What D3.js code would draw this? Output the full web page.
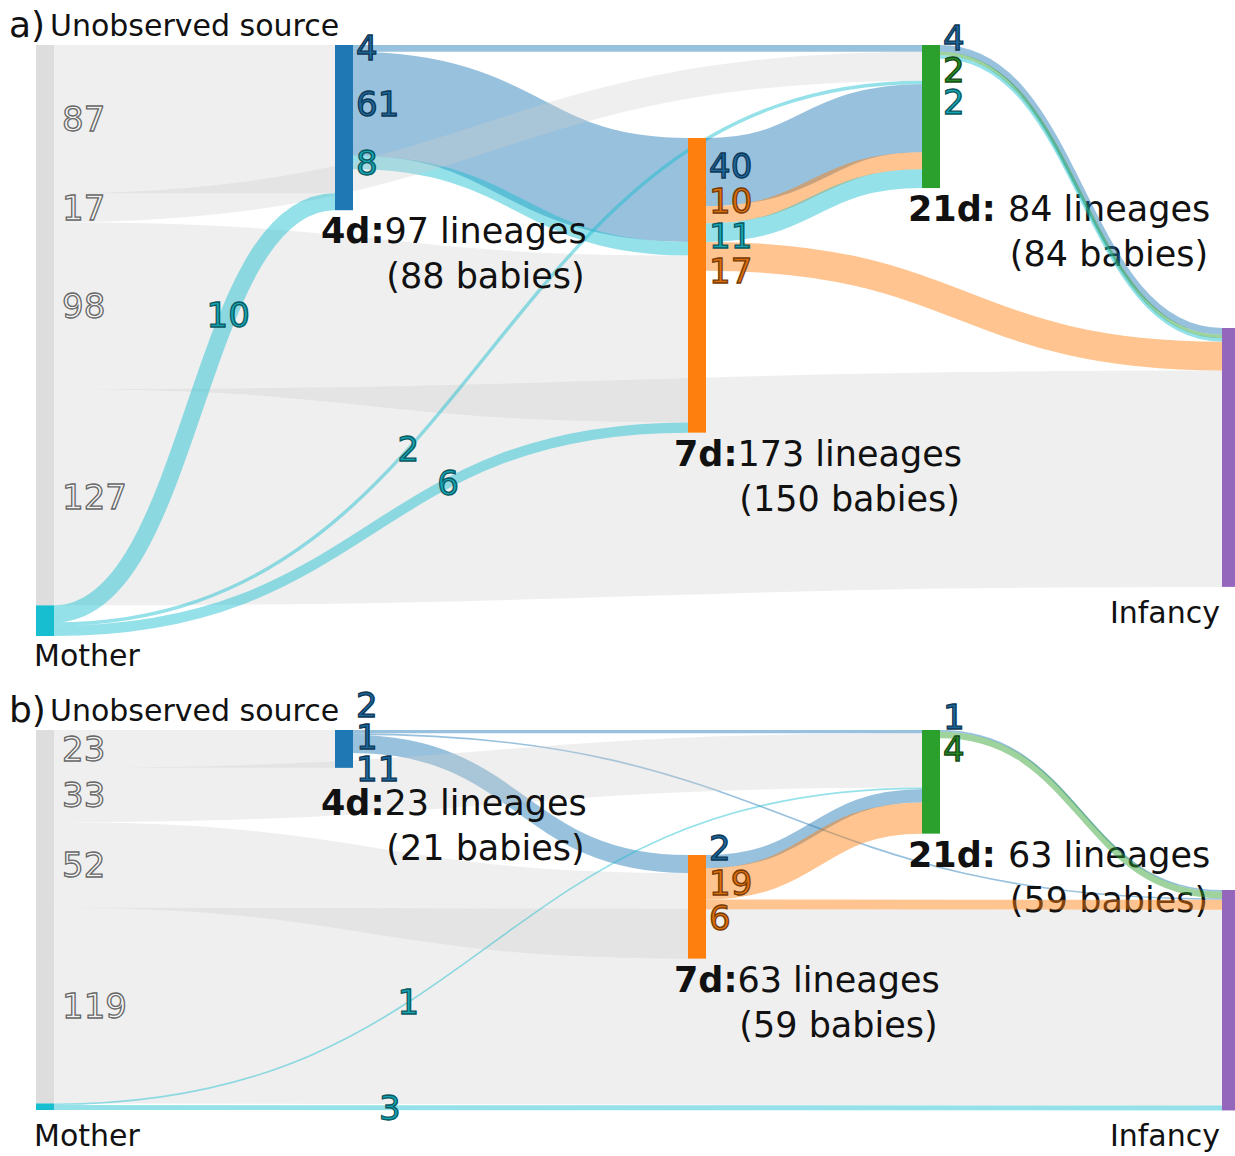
<!DOCTYPE html>
<meta charset="utf-8">
<style>
    body { margin: 0; background: #fff; }
    svg text { font-family: "DejaVu Sans", sans-serif; }
</style>

<svg width="1235" height="1156"></svg>

<script src="https://cdnjs.cloudflare.com/ajax/libs/d3/7.8.5/d3.min.js"></script>

<script>
    // columns of the diagram
    var columns = ["source", "4d", "7d", "21d", "infancy"];
    var nodeColumn = {unob: 0, mother: 0, d4: 1, d7: 2, d21: 3, inf: 4};

    // panel a: [source, target, lineages, colour group]
    var linksA = [
        ["unob", "d4", 87, "gray"],
        ["unob", "d21", 17, "gray"],
        ["unob", "d7", 98, "gray"],
        ["unob", "inf", 127, "gray"],
        ["mother", "d4", 10, "teal"],
        ["mother", "d21", 2, "teal"],
        ["mother", "d7", 6, "teal"],
        ["d4", "d21", 4, "blue"],
        ["d4", "d7", 61, "blue"],
        ["d4", "d7", 8, "teal"],
        ["d7", "d21", 40, "blue"],
        ["d7", "d21", 10, "orange"],
        ["d7", "d21", 11, "teal"],
        ["d7", "inf", 17, "orange"],
        ["d21", "inf", 4, "blue"],
        ["d21", "inf", 2, "green"],
        ["d21", "inf", 2, "teal"]
    ];
    var lineagesA = {d4: 97, d7: 173, d21: 84};
    var babiesA = {d4: 88, d7: 150, d21: 84};

    // panel b (5th field: printed label where it differs from the drawn width)
    var linksB = [
        ["unob", "d4", 23, "gray"],
        ["unob", "d21", 33, "gray"],
        ["unob", "d7", 52, "gray"],
        ["unob", "inf", 119, "gray"],
        ["mother", "d21", 1, "teal"],
        ["mother", "inf", 3, "teal"],
        ["d4", "d21", 2, "blue"],
        ["d4", "inf", 1, "blue"],
        ["d4", "d7", 11, "blue"],
        ["d7", "d21", 8, "blue", "2"],
        ["d7", "d21", 19, "orange"],
        ["d7", "inf", 6, "orange"],
        ["d21", "inf", 1, "blue"],
        ["d21", "inf", 4, "green"]
    ];
    var lineagesB = {d4: 23, d7: 63, d21: 63};
    var babiesB = {d4: 21, d7: 59, d21: 59};

    var stageNames = {d4: "4d:", d7: "7d:", d21: "21d: "};

    // ---- layout ----
    var svg = d3.select("svg"),
        nodeW = 18,
        colX = d3.scaleOrdinal().domain([0, 1, 2, 3, 4]).range([36, 335, 688, 922, 1222]),
        palette = {gray: "#cccccc", teal: "#17becf", blue: "#1f77b4", orange: "#ff7f0e", green: "#2ca02c"},
        nodeFill = {unob: "#dddddd", mother: "#17becf", d4: "#1f77b4", d7: "#ff7f0e", d21: "#2ca02c", inf: "#9467bd"},
        inOrder = {d4: ["unob", "mother"], d7: ["d4", "unob", "mother"],
                   d21: ["d4", "unob", "mother", "d7"], inf: ["d21", "d4", "d7", "unob", "mother"]},
        motherLabelT = {d4: 0.655, d7: 0.657, d21: 0.38, inf: 0.24},
        linkPath = d3.linkHorizontal().source(function (d) { return [d.x0, d.y0]; })
                                       .target(function (d) { return [d.x1, d.y1]; });

    var panels = [
        {tag: "a)", top: 45, height: 591, links: linksA, lineages: lineagesA, babies: babiesA, offs: {d7: 93, inf: 283}},
        {tag: "b)", top: 730, height: 380, links: linksB, lineages: lineagesB, babies: babiesB, offs: {d7: 125, inf: 160}}
    ];

    function labelFill(c) { return c === "gray" ? "#f4f4f4" : d3.color(palette[c]).darker(0.4); }
    function labelStroke(c) { return c === "gray" ? "#666666" : d3.color(palette[c]).darker(2.2); }

    function bezierAt(d, t) {
        var xm = (d.x0 + d.x1) / 2, u = 1 - t;
        return [u * u * u * d.x0 + 3 * u * t * xm + t * t * t * d.x1,
                (u * u * u + 3 * u * u * t) * d.y0 + (3 * u * t * t + t * t * t) * d.y1];
    }

    // pushes overlapping labels apart, keeping each cluster centred on its wanted spots
    function spread(items, gap, minY) {
        var clusters = [];
        items.forEach(function (it) {
            clusters.push({items: [it], pos: it.want});
            while (clusters.length > 1) {
                var b = clusters[clusters.length - 1], a = clusters[clusters.length - 2];
                if (b.pos - (a.pos + (a.items.length - 1) * gap) >= gap) break;
                a.items = a.items.concat(b.items);
                a.pos = d3.mean(a.items, function (m, i) { return m.want - i * gap; });
                clusters.pop();
            }
        });
        if (clusters.length && clusters[0].pos < minY) clusters[0].pos = minY;
        clusters.forEach(function (c) {
            c.items.forEach(function (m, i) { m.y = c.pos + i * gap; });
        });
    }

    panels.forEach(function (p) {
        var links = p.links.map(function (l, i) {
            return {i: i, source: l[0], target: l[1], value: l[2], color: l[3], text: l[4] || String(l[2])};
        });
        var outSum = function (n) { return d3.sum(links.filter(function (l) { return l.source === n; }), function (l) { return l.value; }); };
        var inSum = function (n) { return d3.sum(links.filter(function (l) { return l.target === n; }), function (l) { return l.value; }); };
        var k = p.height / (outSum("unob") + outSum("mother"));
        var y = d3.scaleLinear().domain([0, 1]).range([0, k]);

        var nodes = {};
        nodes.unob = {y: p.top, h: y(outSum("unob"))};
        nodes.mother = {y: p.top + nodes.unob.h, h: y(outSum("mother"))};
        nodes.d4 = {y: p.top, h: y(p.lineages.d4)};
        nodes.d7 = {y: p.top + p.offs.d7, h: y(p.lineages.d7)};
        nodes.d21 = {y: p.top, h: y(p.lineages.d21)};
        nodes.inf = {y: p.top + p.offs.inf, h: y(inSum("inf"))};
        Object.keys(nodes).forEach(function (n) { nodes[n].x = colX(nodeColumn[n]); });

        // source side stacking: array order
        Object.keys(nodes).forEach(function (n) {
            var acc = nodes[n].y;
            links.filter(function (l) { return l.source === n; }).forEach(function (l) {
                l.w = y(l.value);
                l.x0 = nodes[n].x + nodeW;
                l.y0 = acc + l.w / 2;
                acc += l.w;
            });
        });
        // target side stacking
        Object.keys(inOrder).forEach(function (n) {
            var acc = nodes[n].y;
            links.filter(function (l) { return l.target === n; })
                .sort(function (a, b) {
                    return (inOrder[n].indexOf(a.source) - inOrder[n].indexOf(b.source)) || (a.i - b.i);
                })
                .forEach(function (l) {
                    l.x1 = nodes[n].x;
                    l.y1 = acc + l.w / 2;
                    acc += l.w;
                });
        });

        function drawLinks(list) {
            svg.append("g").selectAll("path")
                .data(list)
                .enter()
                .append("path")
                .attr("d", linkPath)
                .attr("fill", "none")
                .attr("stroke", function (d) { return palette[d.color]; })
                .attr("stroke-opacity", function (d) { return d.color === "gray" ? 0.32 : 0.46; })
                .attr("stroke-width", function (d) { return Math.max(d.w, 1.2); });
        }

        drawLinks(links.filter(function (l) { return l.source === "d4"; }));
        drawLinks(links.filter(function (l) { return l.color === "gray"; }));
        drawLinks(links.filter(function (l) { return l.source === "mother"; }));

        // number labels at the stage nodes
        var numLabels = [];
        ["unob", "d4", "d7", "d21"].forEach(function (n) {
            var items = links.filter(function (l) { return l.source === n; })
                .map(function (l) { return {l: l, want: l.y0}; });
            spread(items, n === "d7" ? 35 : 32, 38);
            items.forEach(function (it) {
                numLabels.push({text: it.l.text, color: it.l.color, x: nodes[n].x + nodeW + (n === "unob" ? 8 : 3), y: it.y, anchor: "start"});
            });
            if (n !== "unob") {
                nodes[n].labelBottom = d3.max(items, function (it) { return it.y + 13; });
            }
        });
        links.filter(function (l) { return l.source === "mother"; }).forEach(function (l) {
            var pt = bezierAt(l, motherLabelT[l.target]);
            numLabels.push({text: l.text, color: l.color, x: pt[0], y: pt[1], anchor: "middle"});
        });

        // stage captions
        ["d4", "d7", "d21"].forEach(function (n) {
            var nd = nodes[n],
                x = nd.x - 14,
                base = Math.max(nd.y + nd.h, nd.labelBottom) + 33;
            var t1 = svg.append("text")
                .attr("x", x).attr("y", base)
                .attr("font-size", 35).attr("fill", "#111");
            t1.append("tspan").attr("font-weight", "bold").text(stageNames[n]);
            t1.append("tspan").text(p.lineages[n] + " lineages");
            var w = t1.node().getComputedTextLength();
            svg.append("text")
                .attr("x", x + w - 2).attr("y", base + 45)
                .attr("text-anchor", "end")
                .attr("font-size", 35).attr("fill", "#111")
                .text("(" + p.babies[n] + " babies)");
        });

        drawLinks(links.filter(function (l) { return l.source === "d7" || l.source === "d21"; }));

        // nodes
        svg.append("g").selectAll("rect")
            .data(Object.keys(nodes))
            .enter()
            .append("rect")
            .attr("x", function (n) { return nodes[n].x; })
            .attr("y", function (n) { return nodes[n].y; })
            .attr("width", nodeW)
            .attr("height", function (n) { return nodes[n].h; })
            .attr("fill", function (n) { return nodeFill[n]; });

        svg.append("g").selectAll("text")
            .data(numLabels)
            .enter()
            .append("text")
            .attr("x", function (d) { return d.x; })
            .attr("y", function (d) { return d.y + 12; })
            .attr("text-anchor", function (d) { return d.anchor; })
            .attr("font-size", 34)
            .attr("fill", function (d) { return labelFill(d.color); })
            .attr("stroke", function (d) { return labelStroke(d.color); })
            .attr("stroke-width", 1.3)
            .text(function (d) { return d.text; });

        // panel titles and end labels
        svg.append("text").attr("x", 9).attr("y", p.top - 8)
            .attr("font-size", 36).attr("fill", "#111").text(p.tag);
        svg.append("text").attr("x", 50).attr("y", p.top - 9)
            .attr("font-size", 30).attr("fill", "#111").text("Unobserved source");
        var infBase = nodes.inf.y + nodes.inf.h + 36;
        svg.append("text").attr("x", 1220).attr("y", infBase)
            .attr("text-anchor", "end")
            .attr("font-size", 30).attr("fill", "#111").text("Infancy");
        svg.append("text").attr("x", 34)
            .attr("y", Math.max(nodes.mother.y + nodes.mother.h + 30, infBase))
            .attr("font-size", 30).attr("fill", "#111").text("Mother");
    });
</script>
